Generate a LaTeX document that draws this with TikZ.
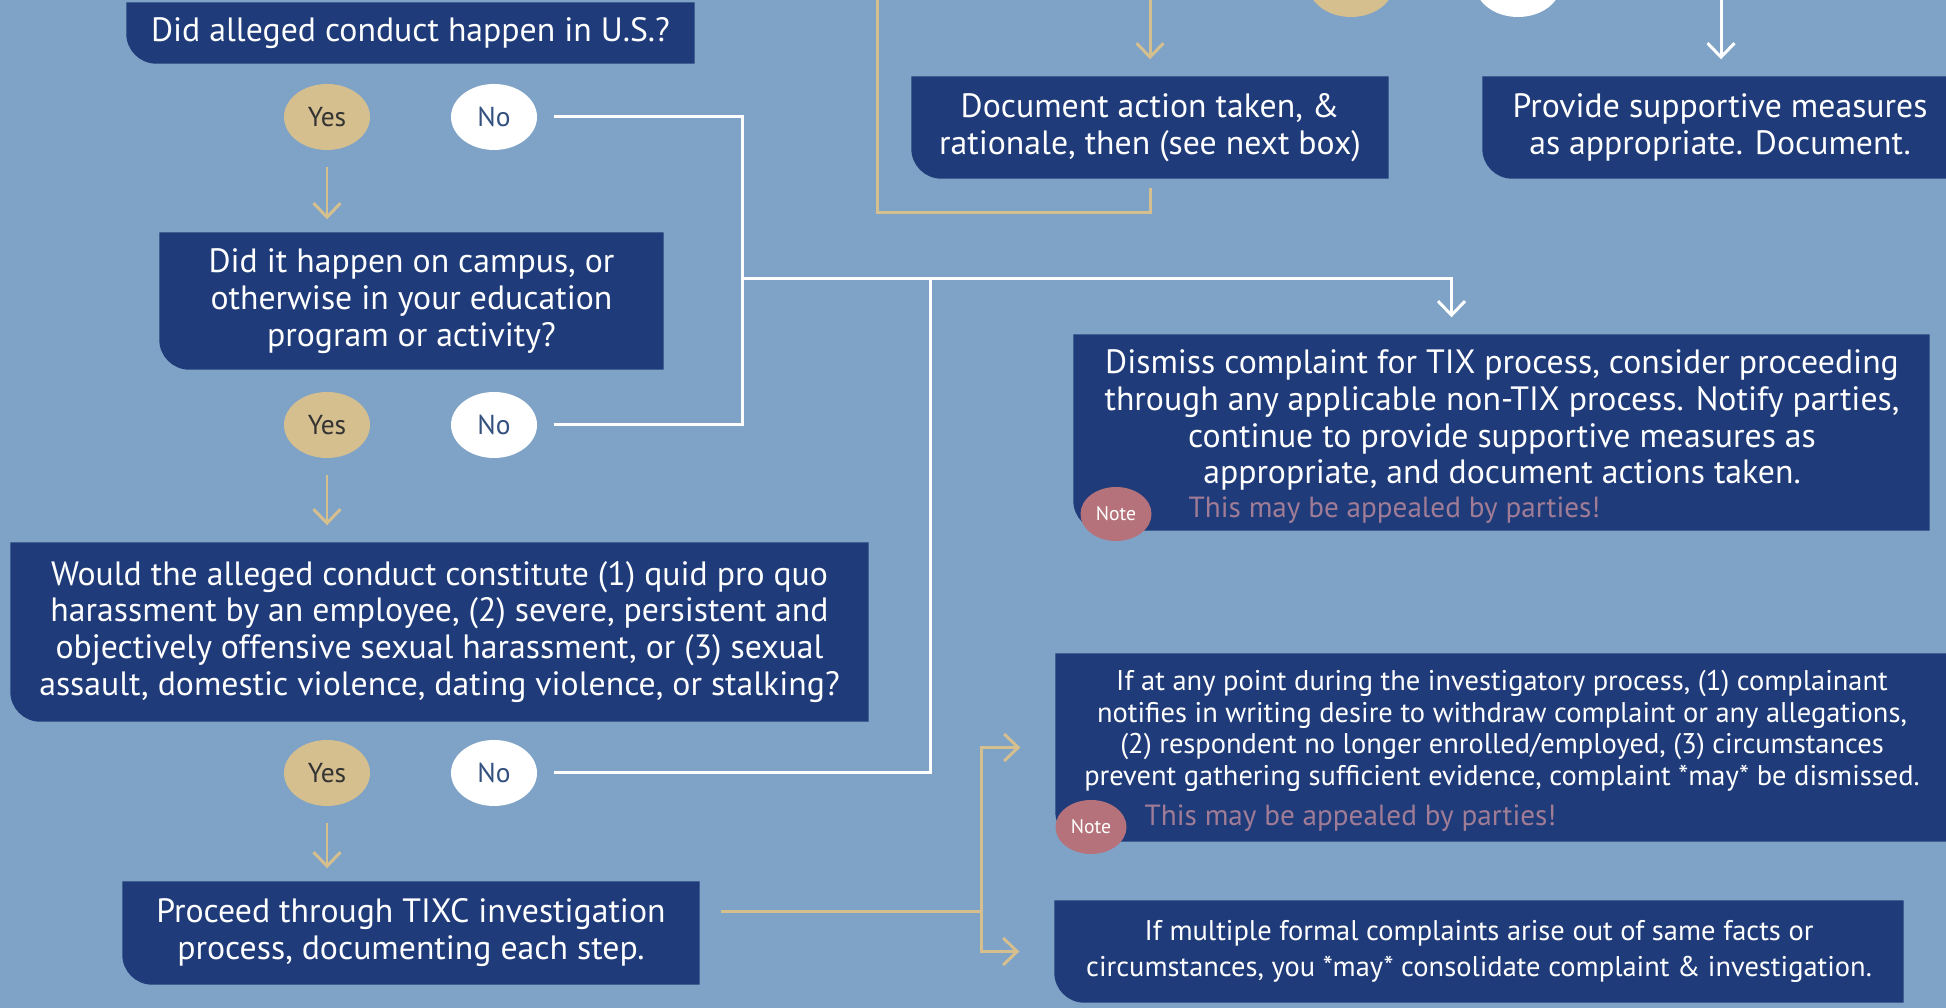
\documentclass[tikz,border=0pt]{standalone}
\usepackage{fontspec}
\setmainfont{PT Sans}
\usepackage{tikz}
\usetikzlibrary{arrows.meta,backgrounds,shapes.geometric}
\definecolor{ChartSky}{HTML}{7FA3C6}
\definecolor{ChartNavy}{HTML}{1F3B79}
\definecolor{ChartGold}{HTML}{D6BF8E}
\definecolor{ChartRose}{HTML}{B5727A}
\definecolor{ChartMauve}{HTML}{A07C96}
\definecolor{ChartInk}{HTML}{333333}
\definecolor{ChartSlate}{HTML}{34507F}
\newcommand{\navyfill}[1]{\fill[ChartNavy] (#1.north west) -- (#1.north east) -- (#1.south east) -- ([xshift=0.3cm]#1.south west) arc[start angle=270,end angle=180,radius=0.3cm] -- cycle;}

\begin{document}
\begin{tikzpicture}[
  x=1cm,
  y=1cm,
  font=\fontsize{9.6}{10.5}\selectfont,
  box/.style={inner sep=0pt, align=center, text=white},
  boxtext/.style={inner sep=0pt, align=center, text=white},
  smalltext/.style={font=\fontsize{8.1}{9.0}\selectfont},
  yesdot/.style={ellipse, fill=ChartGold, minimum width=0.86cm, minimum height=0.66cm, inner sep=0pt, text=ChartInk, font=\fontsize{7.8}{8}\selectfont},
  nodot/.style={yesdot, fill=white, text=ChartSlate},
  notedot/.style={ellipse, fill=ChartRose, minimum width=0.71cm, minimum height=0.54cm, inner sep=0pt, text=white, font=\fontsize{5.6}{6}\selectfont},
  notetext/.style={anchor=west, inner sep=0pt, text=ChartMauve, font=\fontsize{8.3}{9}\selectfont},
  goldline/.style={draw=ChartGold, line width=0.85pt},
  goldarrow/.style={goldline, -{Straight Barb[length=1.4mm,width=2.7mm]}},
  noline/.style={draw=white, line width=0.85pt},
  noarrow/.style={noline, -{Straight Barb[length=1.4mm,width=2.7mm]}}
]
\useasboundingbox (0,0) rectangle (19.46,10.08);
\begin{pgfonlayer}{background}
\fill[ChartSky] (0,0) rectangle (19.46,10.08);
\end{pgfonlayer}

\node[box, minimum width=5.67cm, minimum height=0.60cm] (q1) at (4.105,9.75) {Did alleged conduct happen in U.S.?};
\node[yesdot] (y1) at (3.27,8.91) {Yes};
\node[nodot] (n1) at (4.94,8.91) {No};
\node[box, minimum width=5.03cm, minimum height=1.36cm] (q2) at (4.115,7.07) {Did it happen on campus, or\\otherwise in your education\\program or activity?};
\node[yesdot] (y2) at (3.27,5.83) {Yes};
\node[nodot] (n2) at (4.94,5.83) {No};
\node[box, minimum width=8.57cm, minimum height=1.78cm] (q3) at (4.395,3.76) {Would the alleged conduct constitute (1) quid pro quo\\harassment by an employee, (2) severe, persistent and\\objectively offensive sexual harassment, or (3) sexual\\assault, domestic violence, dating violence, or stalking?};
\node[yesdot] (y3) at (3.27,2.35) {Yes};
\node[nodot] (n3) at (4.94,2.35) {No};
\node[box, minimum width=5.76cm, minimum height=1.02cm] (q4) at (4.11,0.75) {Proceed through TIXC investigation\\process, documenting each step.};

\node[yesdot] (y0) at (13.51,10.24) {};
\node[nodot] (n0) at (15.18,10.24) {};
\node[box, minimum width=4.76cm, minimum height=1.01cm] (qdoc) at (11.50,8.805) {Document action taken, \&\\rationale, then (see next box)};
\node[box, minimum width=4.74cm, minimum height=1.01cm] (qsup) at (17.20,8.805) {Provide supportive measures\\as appropriate. Document.};

\node[box, minimum width=8.55cm, minimum height=1.95cm] (q5) at (15.015,5.755) {};
\node[boxtext] (q5t) at (15.02,5.88) {Dismiss complaint for TIX process, consider proceeding\\through any applicable non-TIX process. Notify parties,\\continue to provide supportive measures as\\appropriate, and document actions taken.};
\node[notedot] (note1) at (11.16,4.94) {Note};
\node[notetext] (warn1) at (11.88,4.98) {This may be appealed by parties!};

\node[box, minimum width=8.92cm, minimum height=1.87cm] (q6) at (15.02,2.605) {};
\node[boxtext, smalltext] (q6t) at (15.02,2.77) {If at any point during the investigatory process, (1) complainant\\notifies in writing desire to withdraw complaint or any allegations,\\(2) respondent no longer enrolled/employed, (3) circumstances\\prevent gathering sufficient evidence, complaint *may* be dismissed.};
\node[notedot] (note2) at (10.91,1.81) {Note};
\node[notetext] (warn2) at (11.44,1.90) {This may be appealed by parties!};
\node[box, font=\fontsize{8.1}{10}\selectfont, minimum width=8.48cm, minimum height=1.01cm] (q7) at (14.79,0.565) {If multiple formal complaints arise out of same facts or\\circumstances, you *may* consolidate complaint \& investigation.};

\begin{pgfonlayer}{background}
\foreach \b in {q1,q2,q3,q4,qdoc,qsup,q5,q6,q7} {\navyfill{\b}}
\end{pgfonlayer}

\coordinate (j1) at (7.42,7.29);
\coordinate (j2) at (9.30,7.29);
\coordinate (docin) at (11.50,10.3);
\coordinate (loopend) at (8.77,10.3);
\coordinate (supin) at (17.21,10.3);
\coordinate (fork) at (9.81,0.96);

\draw[goldarrow, shorten <=.16cm, shorten >=.13cm] (y1.south) -- (y1.south |- q2.north);
\draw[goldarrow, shorten <=.16cm, shorten >=.17cm] (y2.south) -- (y2.south |- q3.north);
\draw[goldarrow, shorten <=.16cm, shorten >=.13cm] (y3.south) -- (y3.south |- q4.north);
\draw[noline, shorten <=.16cm, shorten >=.16cm] (n1.east) -| (j1) |- (n2.east);
\draw[noline, shorten <=.16cm] (n3.east) -| (j2);
\draw[noarrow, shorten >=.17cm] (j1) -| ([xshift=-.5cm]q5.north);
\draw[goldarrow, shorten >=.17cm] (docin) -- (qdoc.north);
\draw[goldline, shorten <=.09cm] (qdoc.south) -- ++(0,-0.34) -| (loopend);
\draw[noarrow, shorten >=.17cm] (supin) -- (supin |- qsup.north);
\draw[goldline, shorten <=.21cm] ([yshift=.21cm]q4.east) -- ([yshift=.21cm]q4.east -| fork);
\draw[goldarrow, shorten >=.35cm] (fork) |- (q6.west);
\draw[goldarrow, shorten >=.35cm] (fork) |- (q7.west);
\end{tikzpicture}
\end{document}
